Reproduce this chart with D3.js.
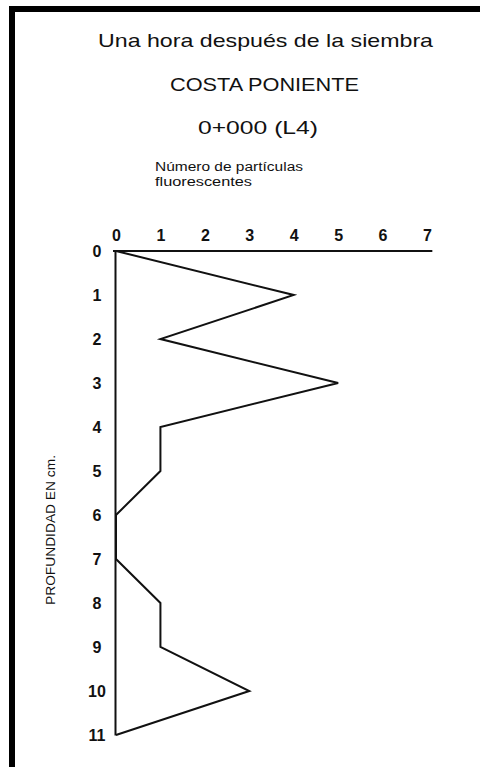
<!DOCTYPE html>
<html>
<head>
<meta charset="utf-8">
<script src="https://cdn.jsdelivr.net/npm/d3@7"></script>
<style>
  html, body { margin: 0; padding: 0; background: #fff; }
  svg { display: block; }
</style>
</head>
<body>
<script>
// ---- data ----
const depths = [0, 1, 2, 3, 4, 5, 6, 7, 8, 9, 10, 11];
const particles = [0, 4, 1, 5, 1, 1, 0, 0, 1, 1, 3, 0];
const xTicks = [0, 1, 2, 3, 4, 5, 6, 7];
const yTicks = [0, 1, 2, 3, 4, 5, 6, 7, 8, 9, 10, 11];
const titleLines = ["Una hora después de la siembra", "COSTA PONIENTE", "0+000 (L4)"];
const xAxisTitle = ["Número de partículas", "fluorescentes"];
const yAxisTitle = "PROFUNDIDAD EN cm.";

const W = 481, H = 767;
const svg = d3.select("body").append("svg").attr("width", W).attr("height", H);
svg.append("rect").attr("width", W).attr("height", H).attr("fill", "#fff");

// frame (left and top bars)
svg.append("rect").attr("x", 9).attr("y", 6).attr("width", 6).attr("height", H - 6).attr("fill", "#000");
svg.append("rect").attr("x", 9).attr("y", 6).attr("width", 471).attr("height", 6).attr("fill", "#000");

const x = d3.scaleLinear().domain([0, 7]).range([116, 427]);
const y = d3.scaleLinear().domain([0, 11]).range([251, 735]);

// titles
const titleFont = "'Liberation Sans', Arial, sans-serif";
const tl = svg.append("g").attr("font-family", titleFont).attr("fill", "#111");
tl.append("text").attr("x", 265.5).attr("y", 47).attr("text-anchor", "middle")
  .attr("font-size", 19).attr("textLength", 335).attr("lengthAdjust", "spacingAndGlyphs").text(titleLines[0]);
tl.append("text").attr("x", 264.5).attr("y", 91).attr("text-anchor", "middle")
  .attr("font-size", 19).attr("textLength", 189).attr("lengthAdjust", "spacingAndGlyphs").text(titleLines[1]);
tl.append("text").attr("x", 258).attr("y", 134).attr("text-anchor", "middle")
  .attr("font-size", 19).attr("textLength", 120).attr("lengthAdjust", "spacingAndGlyphs").text(titleLines[2]);
tl.append("text").attr("x", 155).attr("y", 171)
  .attr("font-size", 12).attr("textLength", 148).attr("lengthAdjust", "spacingAndGlyphs").text(xAxisTitle[0]);
tl.append("text").attr("x", 155).attr("y", 186)
  .attr("font-size", 12).attr("textLength", 97).attr("lengthAdjust", "spacingAndGlyphs").text(xAxisTitle[1]);
tl.append("text").attr("transform", "translate(55,530) rotate(-90)").attr("text-anchor", "middle")
  .attr("font-size", 13).attr("textLength", 150).attr("lengthAdjust", "spacingAndGlyphs").text(yAxisTitle);

// axes
const tickFont = "'Liberation Sans', Arial, sans-serif";
const xAxis = d3.axisTop(x).tickValues(xTicks).tickSize(0).tickPadding(10).tickFormat(d3.format("d"));
const gx = svg.append("g").attr("transform", `translate(0,${y(0)})`).call(xAxis);
gx.select(".domain").attr("d", `M${x(0) - 3},0H${x(7.12)}`).attr("stroke", "#111").attr("stroke-width", 2);
gx.selectAll("text").attr("font-family", tickFont).attr("font-weight", "bold").attr("font-size", 16).attr("fill", "#111");

const yAxis = d3.axisLeft(y).tickValues(yTicks).tickSize(0).tickPadding(14).tickFormat(d3.format("d"));
const gy = svg.append("g").attr("transform", `translate(${x(0) - 1},0)`).call(yAxis);
gy.select(".domain").attr("stroke", "#111").attr("stroke-width", 2);
gy.selectAll("text").attr("font-family", tickFont).attr("font-weight", "bold").attr("font-size", 16).attr("fill", "#111")
  .attr("text-anchor", "middle").attr("dx", -4);

// profile line
const line = d3.line().x((d, i) => x(d)).y((d, i) => y(depths[i]));
svg.append("path").datum(particles).attr("d", line).attr("fill", "none")
  .attr("stroke", "#111").attr("stroke-width", 2).attr("stroke-linejoin", "miter");
</script>
</body>
</html>
